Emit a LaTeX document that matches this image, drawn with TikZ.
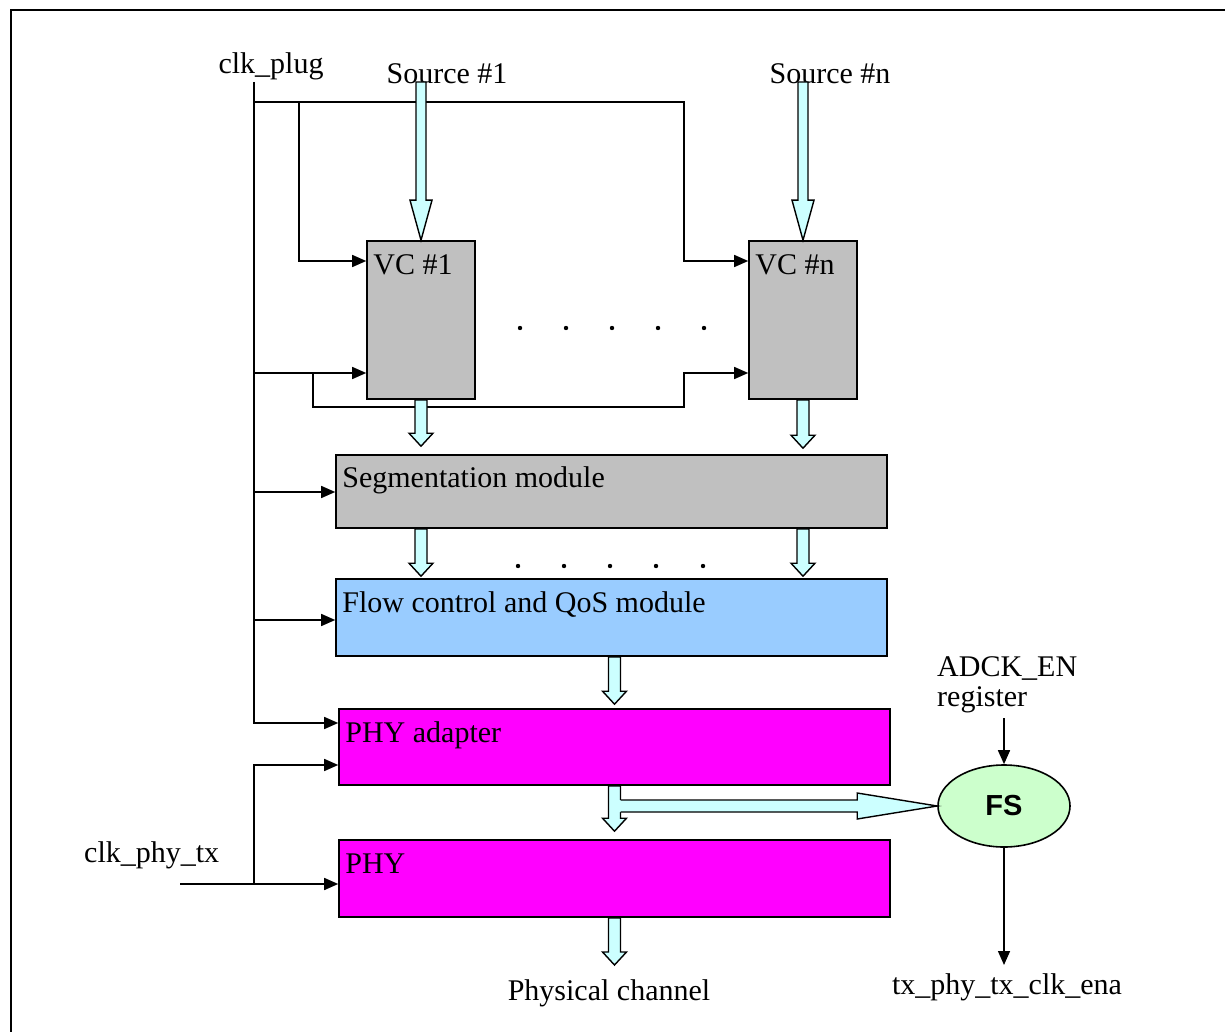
\documentclass[tikz,border=0pt]{standalone}
\usepackage{fontspec}
\setmainfont{Liberation Serif}
\newfontfamily\fsfont{Liberation Sans}
\usetikzlibrary{arrows.meta,calc,shapes.geometric}

\definecolor{boxgray}{HTML}{C0C0C0}
\definecolor{flowblue}{HTML}{99CCFF}
\definecolor{phymag}{HTML}{FF00FF}
\definecolor{pipecyan}{HTML}{CCFFFF}
\definecolor{fsgreen}{HTML}{CCFFCC}

\tikzset{
  blk/.style={draw, line width=1.6pt, inner sep=0pt},
  vcbox/.style={blk, fill=boxgray, minimum width=108pt, minimum height=158pt},
  wide/.style={blk, minimum width=551pt},
  boxlabel/.style={anchor=base west, inner sep=0pt},
  wire/.style={line width=1.5pt},
  feed/.style={wire, -{Triangle[length=14pt,width=12pt]}},
  pipe/.style={fill=pipecyan, draw=black, line width=1.4pt, line join=miter},
  pipeline/.style={draw=black, line width=1.4pt, line join=miter}
}

% 空心粗箭头（竖直）：起点, 终点, 杆半宽, 头半宽, 头长
\newcommand{\fatdown}[5]{%
  \filldraw[pipe] let \p1=(#1), \p2=(#2) in
    (\x1-#3,\y1) -- (\x1-#3,\y2+#5) -- (\x1-#4,\y2+#5) -- (\x1,\y2)
    -- (\x1+#4,\y2+#5) -- (\x1+#3,\y2+#5) -- (\x1+#3,\y1) -- cycle;}
% 空心粗箭头（水平，左端并入竖直箭头）
\newcommand{\fatright}[5]{%
  \fill[pipecyan] let \p1=(#1), \p2=(#2) in
    (\x1,\y2+#3) -- (\x2-#5,\y2+#3) -- (\x2-#5,\y2+#4) -- (\x2,\y2)
    -- (\x2-#5,\y2-#4) -- (\x2-#5,\y2-#3) -- (\x1,\y2-#3) -- cycle;
  \draw[pipeline] let \p1=(#1), \p2=(#2) in
    (\x1+#3,\y2+#3) -- (\x2-#5,\y2+#3) -- (\x2-#5,\y2+#4) -- (\x2,\y2)
    -- (\x2-#5,\y2-#4) -- (\x2-#5,\y2-#3) -- (\x1+#3,\y2-#3);}

\begin{document}
\begin{tikzpicture}[x=1pt, y=-1pt, font=\fontsize{30}{30}\selectfont]

  %% ════ 外框 ════
  \draw[line width=2.2pt] (11,1060) -- (11,10) -- (1240,10);

  %% ════ 方框 ════
  \node[vcbox] (vc1) at (421,320) {};
  \node[vcbox] (vcn) at (803,320) {};
  \node[wide, fill=boxgray, minimum height=73pt] (seg) at (611.5,491.5) {};
  \node[wide, fill=flowblue, minimum height=77pt] (flow) at (611.5,617.5) {};
  \node[wide, fill=phymag, minimum height=76pt] (phyad) at (614.5,747) {};
  \node[wide, fill=phymag, minimum height=77pt] (phy) at (614.5,878.5) {};
  \node[ellipse, draw, line width=1.6pt, fill=fsgreen, minimum width=132pt, minimum height=82pt,
        font=\fsfont\bfseries\fontsize{29}{30}\selectfont] (fs) at (1004,806) {FS};

  \node[boxlabel] (vc1txt) at ([shift={(7,34)}]vc1.north west) {VC \#1};
  \node[boxlabel] (vcntxt) at ([shift={(7,34)}]vcn.north west) {VC \#n};
  \node[boxlabel] (segtxt) at ([shift={(7,33)}]seg.north west) {Segmentation module};
  \node[boxlabel] (flowtxt) at ([shift={(7,34)}]flow.north west) {Flow control and QoS module};
  \node[boxlabel] (phyadtxt) at ([shift={(7,34)}]phyad.north west) {PHY adapter};
  \node[boxlabel] (phytxt) at ([shift={(7,34)}]phy.north west) {PHY};

  %% ════ 外部标签 ════
  \node[anchor=base, inner sep=0pt] (clkplug) at (271,74) {clk\_plug};
  \node[anchor=base, inner sep=0pt] (src1) at (447,84) {Source \#1};
  \node[anchor=base, inner sep=0pt] (srcn) at (830,84) {Source \#n};
  \node[anchor=base west, inner sep=0pt] (clkphy) at (84,862) {clk\_phy\_tx};
  \node[anchor=base west, inner sep=0pt] (adck) at (937,676) {ADCK\_EN};
  \node[anchor=base west, inner sep=0pt] (adckreg) at (937,706) {register};
  \node[anchor=base, inner sep=0pt] (txena) at (1007,994) {tx\_phy\_tx\_clk\_ena};
  \node[anchor=base, inner sep=0pt] (chan) at (609,1000) {Physical channel};

  %% ════ 时钟线 ════
  \coordinate (plugtop) at (254,82);
  \coordinate (tapA) at (254,102);
  \coordinate (drop1) at (299,102);
  \coordinate (dropn) at (684,261);
  \coordinate (tapB) at (254,373);
  \coordinate (splitB) at (313,373);
  \coordinate (loopB) at (684,407);
  \coordinate (tapC) at (254,492);
  \coordinate (tapD) at (254,620);
  \coordinate (phyin) at (180,884);
  \coordinate (tapE) at (254,884);

  \draw[feed] (plugtop) |- ([yshift=24pt]phyad.west);
  \draw[feed] (tapA) -| (dropn) -- (dropn -| vcn.west);
  \draw[feed] (drop1) |- (dropn -| vc1.west);
  \draw[feed] (tapB) -- (tapB -| vc1.west);
  \draw[feed] (splitB) |- (loopB) |- (tapB -| vcn.west);
  \draw[feed] (tapC) -- (tapC -| seg.west);
  \draw[feed] (tapD) -- (tapD -| flow.west);
  \draw[feed] (phyin) -- (phyin -| phy.west);
  \draw[feed] (tapE) |- ([yshift=-18pt]phyad.west);

  %% ════ FS 的进出线 ════
  \coordinate (regout) at (1004,718);
  \coordinate (enaout) at (1004,965);
  \draw[feed] (regout) -- (fs.north);
  \draw[feed] (fs.south) -- (enaout);

  %% ════ 省略号 ════
  \fill (520,328) circle (2.2pt);
  \fill (566,328) circle (2.2pt);
  \fill (612,328) circle (2.2pt);
  \fill (658,328) circle (2.2pt);
  \fill (704,328) circle (2.2pt);
  \fill (518,566) circle (2.2pt);
  \fill (564,566) circle (2.2pt);
  \fill (610,566) circle (2.2pt);
  \fill (656,566) circle (2.2pt);
  \fill (703,566) circle (2.2pt);

  %% ════ 数据通路（空心粗箭头）════
  \coordinate (src1top) at (421,82);
  \coordinate (srcntop) at (803,82);
  \coordinate (chanin) at (614,965);
  \fatdown{src1top}{vc1.north}{5pt}{11pt}{40pt}
  \fatdown{srcntop}{vcn.north}{5pt}{11pt}{40pt}
  \fatdown{vc1.south}{[yshift=8pt]seg.north}{6pt}{12pt}{13pt}
  \fatdown{vcn.south}{[yshift=6pt]seg.north}{6pt}{12pt}{13pt}
  \fatdown{vc1.south |- seg.south}{[yshift=2pt]flow.north}{6pt}{12pt}{13pt}
  \fatdown{vcn.south |- seg.south}{[yshift=2pt]flow.north}{6pt}{12pt}{13pt}
  \fatdown{phyad.north |- flow.south}{[yshift=4pt]phyad.north}{6pt}{12pt}{13pt}
  \fatdown{phyad.south}{[yshift=8pt]phy.north}{6pt}{12pt}{13pt}
  \fatdown{phy.south}{chanin}{6pt}{12pt}{13pt}
  \fatright{phyad.south}{fs.west}{6pt}{13pt}{80pt}

  % 钉死画布
  \pgfresetboundingbox
  \path[use as bounding box] (0,0) rectangle (1225,1032);
\end{tikzpicture}
\end{document}
